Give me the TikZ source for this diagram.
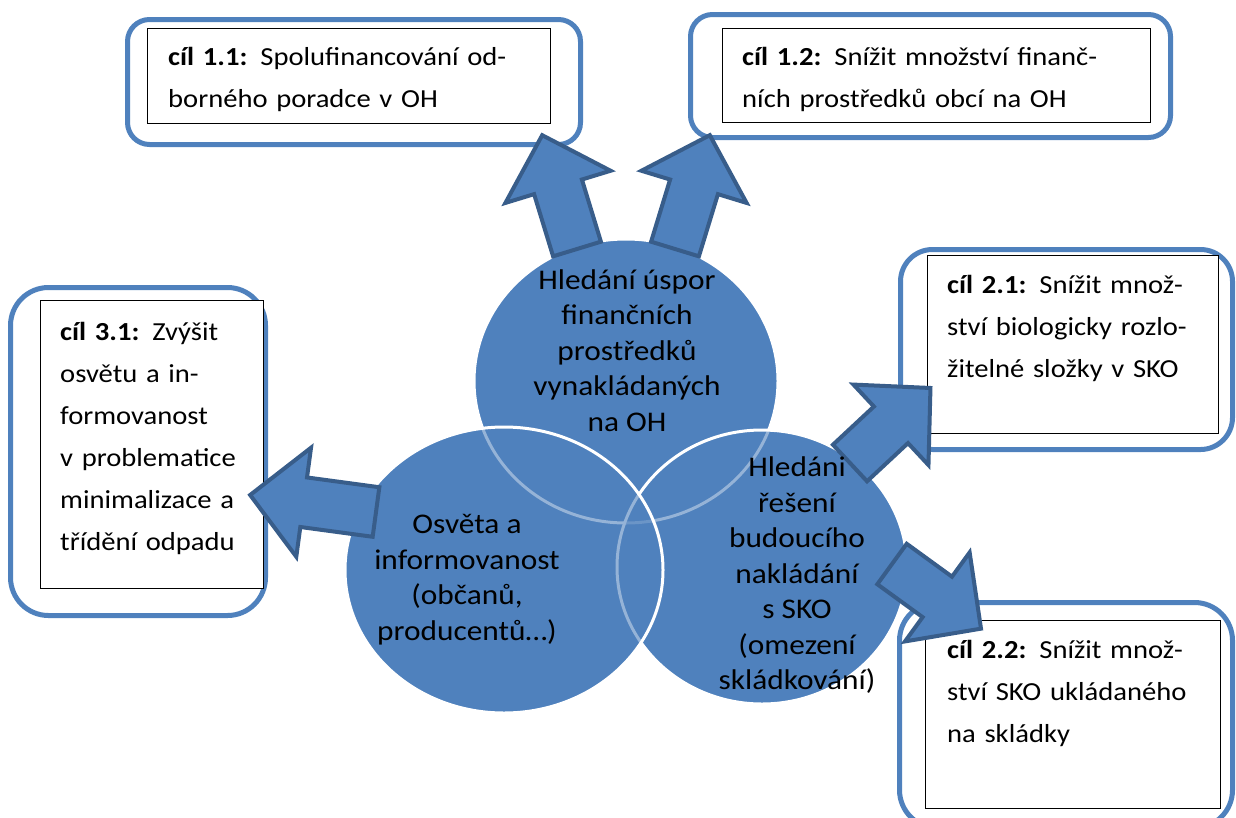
\documentclass[tikz,border=0pt]{standalone}
\usepackage{fontspec}
\setmainfont{Carlito}[FakeStretch=1.1]
\usetikzlibrary{calc,shapes.geometric}
\definecolor{cblue}{HTML}{4F81BD}
\definecolor{cdark}{HTML}{385D8A}
\tikzset{
  outerbox/.style={draw=cblue, line width=5pt, fill=white, rounded corners=#1},
  innerbox/.style={draw=black, line width=1pt, fill=white},
  boxtext/.style={inner sep=0pt, anchor=north west, align=left, font=\fontsize{26}{42}\selectfont},
  circtext/.style={inner sep=0pt, align=center, font=\fontsize{28.5}{35.5}\selectfont},
  venn/.style={ellipse, inner sep=0pt, fill=cblue, draw=white, line width=3pt},
  vennbase/.style={ellipse, inner sep=0pt, fill=cblue},
  blockarrow/.style={fill=cblue, draw=cdark, line width=4pt, line join=miter},
}
\newcommand\jline[1]{\makebox[\linewidth][s]{\strut #1}}
\newcommand\barrow[4]{%
  \coordinate (#1b) at (#2);
  \coordinate (#1t) at ($(#1b)+(#3:#4)$);
  \coordinate (#1h) at ($(#1t)-(#3:54)$);
  \draw[blockarrow] ($(#1b)+({#3+90}:25)$) -- ($(#1h)+({#3+90}:25)$) -- ($(#1h)+({#3+90}:55)$) -- (#1t) -- ($(#1h)+({#3-90}:55)$) -- ($(#1h)+({#3-90}:25)$) -- ($(#1b)+({#3-90}:25)$) -- cycle;}
\begin{document}
\begin{tikzpicture}[x=1pt,y=-1pt]
\useasboundingbox (0,0) rectangle (1236,817);
\clip (0,0) rectangle (1236,817);
% Venn circles
\node[vennbase, minimum width=304pt, minimum height=284pt] (btop) at (626,381) {};
\node[vennbase, minimum width=290pt, minimum height=274pt] (bright) at (762,567) {};
\node[vennbase, minimum width=318pt, minimum height=286pt] (bleft) at (504,570) {};
\node[venn, minimum width=304pt, minimum height=284pt] (ctop) at (626,381) {};
\node[venn, fill opacity=.6, minimum width=290pt, minimum height=274pt] (cright) at (762,567) {};
\node[venn, fill opacity=.6, minimum width=318pt, minimum height=286pt] (cleft) at (504,570) {};
% Goal boxes
\draw[outerbox=22pt] (127.5,19.5) rectangle (580.5,144.5);
\draw[innerbox] (147,28) rectangle (550,123);
\node[boxtext, text width=360pt] (t11) at (168,35.6) {\jline{\textbf{cíl 1.1:} Spolufinancování od-}\\ \strut borného poradce v OH};
\draw[outerbox=22pt] (690.5,14.5) rectangle (1170.5,137.5);
\draw[innerbox] (722,28) rectangle (1150,122);
\node[boxtext, text width=388pt] (t12) at (742,35.6) {\jline{\textbf{cíl 1.2:} Snížit množství finanč-}\\ \strut ních prostředků obcí na OH};
\draw[outerbox=38pt] (10.5,287.5) rectangle (265.5,615.5);
\draw[innerbox] (40,300) rectangle (263,588);
\node[boxtext, text width=182pt] (t31) at (60,310.6) {\jline{\textbf{cíl 3.1:} Zvýšit}\\ \jline{osvětu a in-}\\ \strut formovanost\\ \strut v problematice\\ \jline{minimalizace a}\\ \strut třídění odpadu};
\draw[outerbox=32pt] (900.5,249.5) rectangle (1232.5,449.5);
\draw[innerbox] (927,255) rectangle (1218,433);
\node[boxtext, text width=251pt] (t21) at (947,263.6) {\jline{\textbf{cíl 2.1:} Snížit množ-}\\ \jline{ství biologicky rozlo-}\\ \strut žitelné složky v SKO};
\draw[outerbox=38pt] (899.5,602.5) rectangle (1232.5,828);
\draw[innerbox] (925,620) rectangle (1220,808);
\node[boxtext, text width=251pt] (t22) at (947,628.6) {\jline{\textbf{cíl 2.2:} Snížit množ-}\\ \jline{ství SKO ukládaného}\\ \strut na skládky};
% Block arrows
\barrow{a11}{577,249}{-107}{119}
\barrow{a12}{675,249}{-73}{119}
\barrow{a31}{376,512}{187.7}{127}
\barrow{a21}{850,463}{-43}{110}
\barrow{a22}{892,564}{36}{110}
% Circle texts
\node[circtext] (ttop) at (627,353) {\strut Hledání úspor\\ \strut finančních\\ \strut prostředků\\ \strut vynakládaných\\ \strut na OH};
\node[circtext] (tleft) at (467,580) {\strut Osvěta a\\ \strut informovanost\\ \strut (občanů,\\ \strut producentů…)};
\node[circtext] (tright) at (797,576) {\strut Hledáni\\ \strut řešení\\ \strut budoucího\\ \strut nakládání\\ \strut s SKO\\ \strut (omezení\\ \strut skládkování)};
\end{tikzpicture}
\end{document}
